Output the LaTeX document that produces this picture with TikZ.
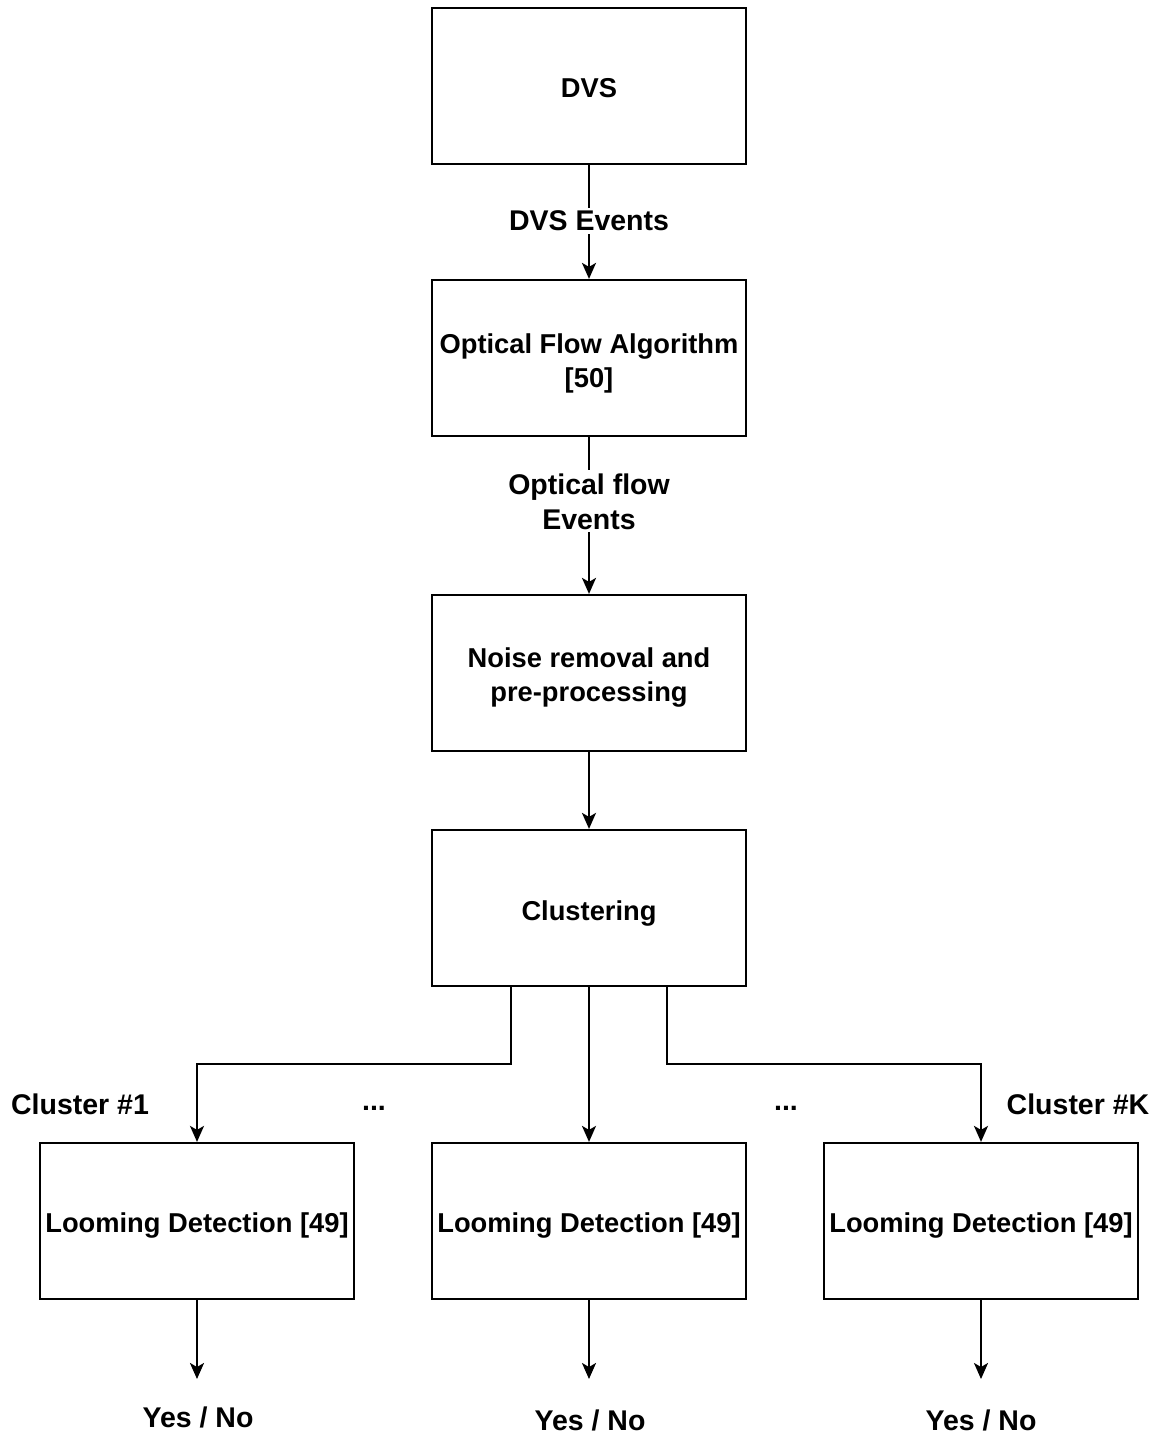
\documentclass[tikz,border=0pt]{standalone}
\usepackage{fontspec}
\setmainfont{Liberation Sans}
\usetikzlibrary{arrows.meta}
\tikzset{
  box/.style={draw=black, line width=2.2pt, fill=white, minimum width=314pt, minimum height=156pt, inner sep=0pt},
  boxtext/.style={align=center, inner sep=0pt, font=\bfseries\fontsize{27.3}{34}\selectfont},
  lbl/.style={fill=white, inner sep=3pt, align=center, font=\bfseries\fontsize{28.5}{35}\selectfont},
  arr/.style={line width=2.2pt, -{Stealth[length=16pt,width=14pt,inset=4pt]}},
  ln/.style={line width=2.2pt}
}
\begin{document}
\begin{tikzpicture}[x=1pt,y=-1pt]
\path[fill=white] (0,0) rectangle (1165,1435);
\useasboundingbox (0,0) rectangle (1165,1435);
\node[box, label={[boxtext, yshift=-2pt]center:DVS}] (dvs) at (589,86) {};
\node[box, label={[boxtext, yshift=-5pt]center:{Optical Flow Algorithm\\{[50]}}}] (of) at (589,358) {};
\node[box, label={[boxtext, yshift=-4pt]center:{Noise removal and\\pre-processing}}] (noise) at (589,673) {};
\node[box, label={[boxtext, yshift=-5pt]center:Clustering}] (clus) at (589,908) {};
\node[box, label={[boxtext, yshift=-4pt]center:{Looming Detection [49]}}] (l1) at (197,1221) {};
\node[box, label={[boxtext, yshift=-4pt]center:{Looming Detection [49]}}] (l2) at (589,1221) {};
\node[box, label={[boxtext, yshift=-4pt]center:{Looming Detection [49]}}] (l3) at (981,1221) {};

\draw[arr] (dvs.south) -- node[lbl, pos=0.49] {DVS Events} (of.north);
\draw[arr] (of.south) -- node[lbl, pos=0.41] {Optical flow\\Events} (noise.north);
\draw[arr] (noise.south) -- (clus.north);

\draw[arr] ([xshift=-78pt]clus.south) -- ++(0,77) -| (l1.north);
\draw[arr] (clus.south) -- (l2.north);
\draw[arr] ([xshift=78pt]clus.south) -- ++(0,77) -| (l3.north);

\node[lbl, fill=none] (c1) at (80,1104) {Cluster \#1};
\node[lbl, fill=none] (d1) at (374,1108) {...};
\node[lbl, fill=none] (d2) at (786,1108) {...};
\node[lbl, fill=none] (ck) at (1078,1104) {Cluster \#K};

\coordinate (e1) at (197,1379);
\coordinate (e2) at (589,1379);
\coordinate (e3) at (981,1379);
\draw[arr] (l1.south) -- (e1);
\draw[arr] (l2.south) -- (e2);
\draw[arr] (l3.south) -- (e3);

\node[lbl, fill=none] (y1) at (198,1417) {Yes / No};
\node[lbl, fill=none] (y2) at (590,1420) {Yes / No};
\node[lbl, fill=none] (y3) at (981,1420) {Yes / No};
\end{tikzpicture}
\end{document}
